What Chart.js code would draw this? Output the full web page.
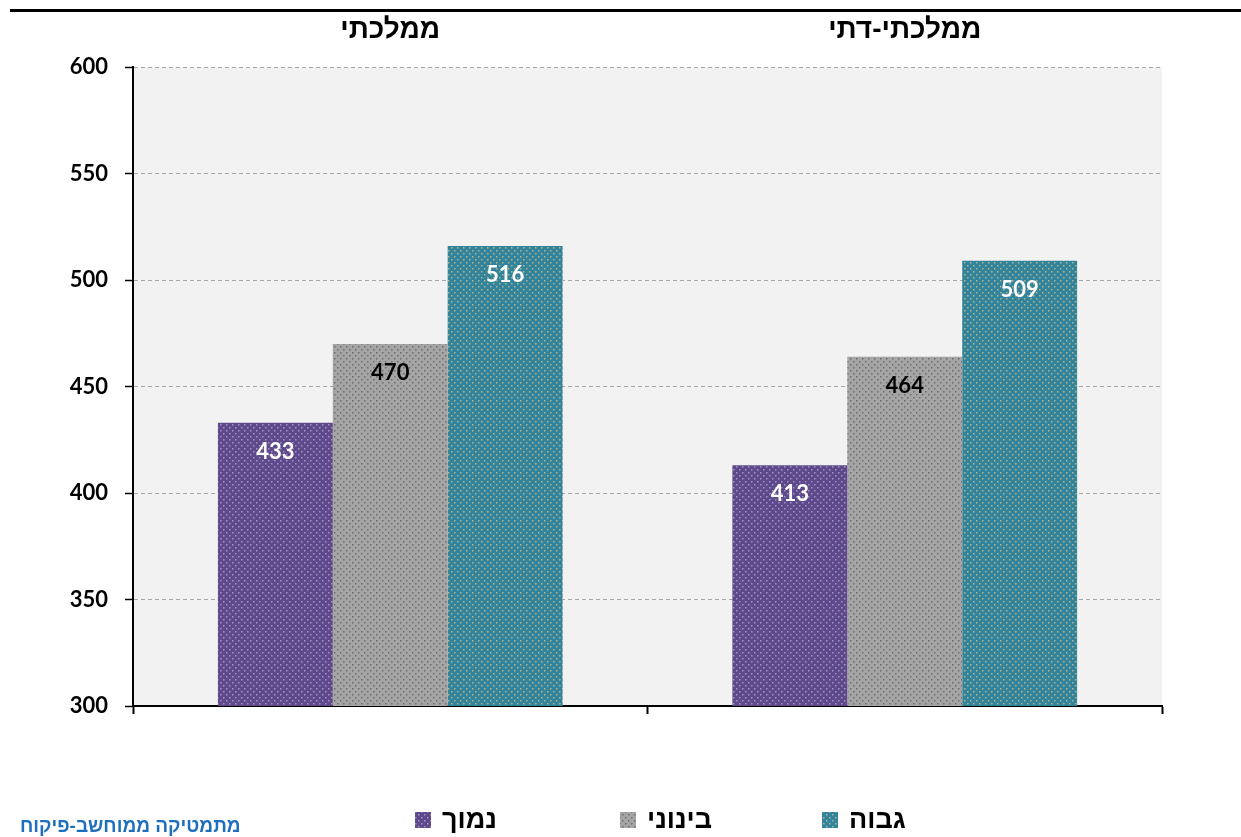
<!DOCTYPE html>
<html lang="he">
<head>
<meta charset="utf-8">
<script src="https://cdn.jsdelivr.net/npm/chart.js@4.4.1/dist/chart.umd.min.js"></script>
<style>
  html, body { margin: 0; padding: 0; background: #ffffff; }
  #wrap { position: relative; width: 1241px; height: 837px; }
</style>
</head>
<body>
<div id="wrap"><canvas id="c" width="1241" height="837"></canvas></div>
<script>
// ---- data ----
const categories = ['ממלכתי', 'ממלכתי-דתי'];
const seriesNames = ['נמוך', 'בינוני', 'גבוה'];
const lowValues = [433, 413];
const midValues = [470, 464];
const highValues = [516, 509];
const yTicks = [300, 350, 400, 450, 500, 550, 600];
const sourceText = 'מתמטיקה ממוחשב-פיקוח';

// ---- styles ----
const FONT = "Lato, 'Open Sans', 'DejaVu Sans', sans-serif";
const HFONT = "'Liberation Sans', 'DejaVu Sans', sans-serif";
function makePattern(base, dot) {
  const t = document.createElement('canvas');
  t.width = 6; t.height = 6;
  const g = t.getContext('2d');
  g.fillStyle = base; g.fillRect(0, 0, 6, 6);
  g.fillStyle = dot;
  g.fillRect(1, 1, 1.5, 1.5);
  g.fillRect(4, 4, 1.5, 1.5);
  return g.createPattern(t, 'repeat');
}
const ctx = document.getElementById('c').getContext('2d');
const fills = [
  makePattern('#5e4a8a', '#a293c6'),
  makePattern('#a5a5a5', '#6e6e6e'),
  makePattern('#31849b', '#b3b48e')
];
const labelColors = ['#ffffff', '#000000', '#ffffff'];

const bgPlugin = {
  id: 'bg',
  beforeDraw(chart) {
    const { ctx: c, chartArea: a } = chart;
    c.save();
    c.fillStyle = '#ffffff';
    c.fillRect(0, 0, chart.width, chart.height);
    c.fillStyle = '#f2f2f2';
    c.fillRect(a.left, a.top, a.right - a.left, a.bottom - a.top);
    c.fillStyle = '#000000';
    c.fillRect(10, 9, chart.width - 10, 3);
    c.restore();
  }
};

const labelPlugin = {
  id: 'vals',
  afterDatasetsDraw(chart) {
    const c = chart.ctx;
    c.save();
    c.font = 'bold 22px ' + FONT;
    c.textAlign = 'center';
    c.textBaseline = 'middle';
    chart.data.datasets.forEach((ds, i) => {
      const meta = chart.getDatasetMeta(i);
      meta.data.forEach((el, j) => {
        c.fillStyle = labelColors[i];
        c.fillText(String(ds.data[j]), el.x, el.y + 29);
      });
    });
    c.restore();
  }
};

const legendPlugin = {
  id: 'customLegend',
  afterDraw(chart) {
    const c = chart.ctx;
    c.save();
    const boxX = [415, 620, 822];
    const y = 820;
    c.font = 'bold 27px ' + HFONT;
    c.textBaseline = 'middle';
    c.textAlign = 'left';
    chart.data.datasets.forEach((ds, i) => {
      c.fillStyle = fills[i];
      c.fillRect(boxX[i], y - 8, 16, 16);
      c.fillStyle = '#000000';
      c.fillText(ds.label, boxX[i] + 27, y + 1);
    });
    c.font = 'bold 19px ' + HFONT;
    c.fillStyle = '#1f6fbf';
    c.fillText(sourceText, 20, 827);
    c.restore();
  }
};

new Chart(ctx, {
  type: 'bar',
  data: {
    labels: categories,
    datasets: [
      { label: seriesNames[0], data: lowValues, backgroundColor: fills[0], borderWidth: 0 },
      { label: seriesNames[1], data: midValues, backgroundColor: fills[1], borderWidth: 0 },
      { label: seriesNames[2], data: highValues, backgroundColor: fills[2], borderWidth: 0 }
    ]
  },
  options: {
    responsive: false,
    animation: false,
    devicePixelRatio: 1,
    layout: { padding: { left: 0, right: 79, top: 0, bottom: 0 } },
    datasets: { bar: { categoryPercentage: 0.67, barPercentage: 1.0 } },
    plugins: { legend: { display: false }, tooltip: { enabled: false } },
    scales: {
      x: {
        position: 'bottom',
        offset: true,
        afterFit(s) { s.height = 131; },
        grid: { offset: true, drawOnChartArea: false, drawTicks: true, tickLength: 8, tickColor: '#000000', tickWidth: 2 },
        border: { display: true, color: '#000000', width: 2 },
        ticks: { display: false }
      },
      xTop: {
        type: 'category',
        position: 'top',
        labels: categories,
        offset: true,
        afterFit(s) { s.height = 67; },
        grid: { display: false },
        border: { display: false },
        ticks: { padding: 12, color: '#000000', font: { family: HFONT, size: 28, weight: 'bold' } }
      },
      y: {
        min: 300, max: 600,
        afterFit(s) { s.width = 133; },
        afterBuildTicks(s) { s.ticks = yTicks.map(v => ({ value: v })); },
        grid: { color: '#a6a6a6', lineWidth: 1, tickLength: 8, tickColor: '#000000', tickWidth: 1.5 },
        border: { display: true, color: '#000000', width: 2, dash: [4, 3] },
        ticks: { padding: 17, color: '#000000', font: { family: FONT, size: 22, weight: 'bold' } }
      }
    }
  },
  plugins: [bgPlugin, labelPlugin, legendPlugin]
});
</script>
</body>
</html>
